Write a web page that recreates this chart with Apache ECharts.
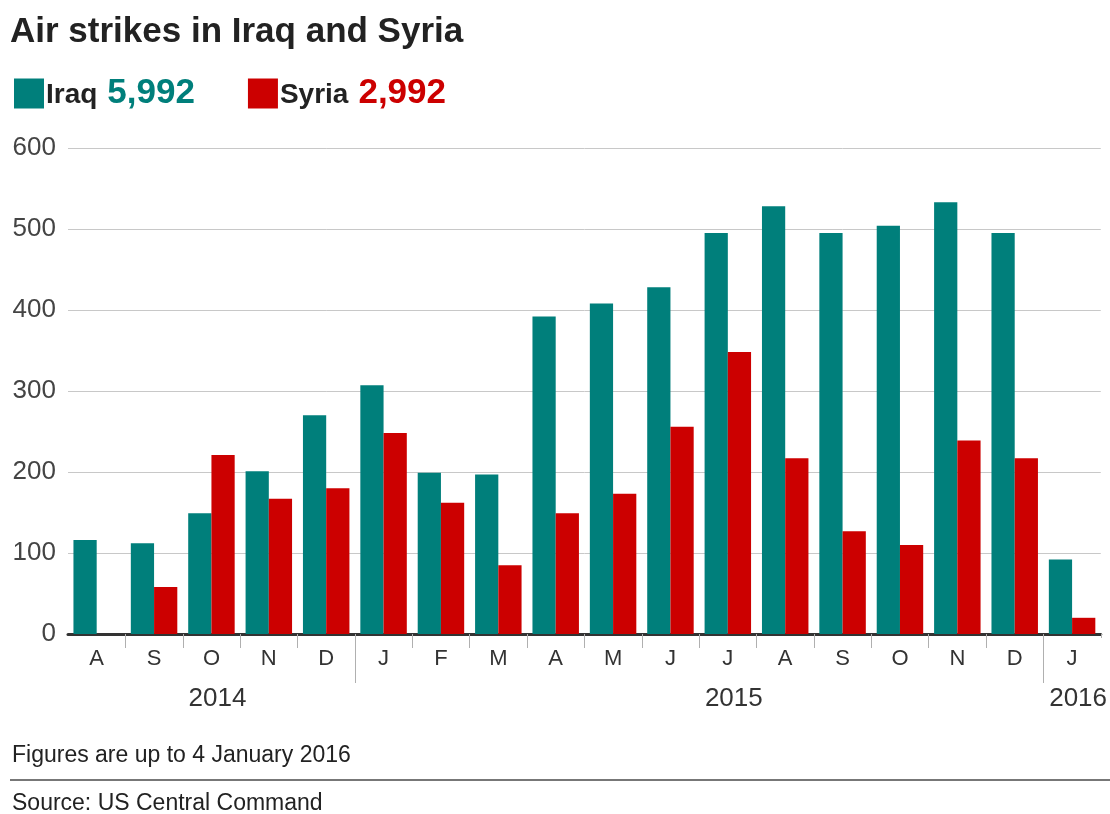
<!DOCTYPE html>
<html>
<head>
<meta charset="utf-8">
<script src="https://cdn.jsdelivr.net/npm/echarts@6/dist/echarts.min.js"></script>
<style>
html,body{margin:0;padding:0;background:#fff;}
#chart{width:1110px;height:814px;}
</style>
</head>
<body>
<div id="chart"></div>
<script>
const months = ['A','S','O','N','D','J','F','M','A','M','J','J','A','S','O','N','D','J'];
const yearLabels = {2:'2014', 11:'2015', 17:'2016'};
const yearBoundaries = [5, 17];
const iraq = [116,112,149,201,270,307,199,197,392,408,428,495,528,495,504,533,495,92];
const syria = [0,58,221,167,180,248,162,85,149,173,256,348,217,127,110,239,217,20];
const seriesNames = ['Iraq','Syria'];
const totals = ['5,992','2,992'];
const yTicks = [0,100,200,300,400,500,600];

const TEAL = '#007f7b', RED = '#cc0000';
const FONT = '"Liberation Sans", Arial, Helvetica, sans-serif';

const chart = echarts.init(document.getElementById('chart'), null, {renderer:'canvas'});
chart.setOption({
  animation:false,
  backgroundColor:'#fff',
  textStyle:{fontFamily:FONT},
  title:{
    text:'Air strikes in Iraq and Syria',
    left:10, top:15, padding:0,
    textStyle:{fontSize:35, fontWeight:'bold', color:'#222', fontFamily:FONT}
  },
  legend:{
    left:14, top:76, padding:0,
    icon:'rect', itemWidth:30, itemHeight:30, itemGap:53,
    data:seriesNames,
    formatter: function(name){
      const i = seriesNames.indexOf(name);
      return '{n|' + name + '}{' + (i===0?'a':'b') + '|' + totals[i] + '}';
    },
    textStyle:{
      padding:[0,0,0,-3],
      rich:{
        n:{fontSize:28, fontWeight:'bold', color:'#222', fontFamily:FONT, padding:[3,0,0,0]},
        a:{fontSize:35, fontWeight:'bold', color:TEAL, fontFamily:FONT, padding:[0,0,0,10]},
        b:{fontSize:35, fontWeight:'bold', color:RED, fontFamily:FONT, padding:[0,0,0,10]}
      }
    }
  },
  grid:{left:68, right:9, top:148, bottom:180, containLabel:false},
  xAxis:[
    {
      type:'category', data:months, position:'bottom',
      axisLine:{show:true, lineStyle:{color:'#333', width:3}},
      axisTick:{show:true, length:14, interval:function(i){return i>0;}, lineStyle:{color:'#b0b0b0', width:1}},
      axisLabel:{fontSize:22, color:'#333', margin:14, fontFamily:FONT, interval:0}
    },
    {
      type:'category', data:months, position:'bottom', offset:0,
      axisLine:{show:false},
      axisTick:{show:true, length:49, interval:function(i){return yearBoundaries.indexOf(i)>=0;}, lineStyle:{color:'#b0b0b0', width:1}},
      axisLabel:{
        fontSize:26, color:'#333', margin:52, fontFamily:FONT, padding:[0,0,0,12],
        interval:function(i){return yearLabels[i]!==undefined;},
        formatter:function(v,i){return yearLabels[i]||'';}
      }
    }
  ],
  yAxis:{
    type:'value', min:yTicks[0], max:yTicks[yTicks.length-1], interval:100,
    axisLine:{show:false}, axisTick:{show:false},
    axisLabel:{fontSize:26, color:'#444', margin:12, fontFamily:FONT},
    splitLine:{lineStyle:{color:'#c8c8c8', width:1}}
  },
  series:[
    {name:seriesNames[0], type:'bar', data:iraq, itemStyle:{color:TEAL}, barGap:'0%', barCategoryGap:'19%'},
    {name:seriesNames[1], type:'bar', data:syria, itemStyle:{color:RED}, barGap:'0%', barCategoryGap:'19%'}
  ],
  graphic:[
    {type:'rect', left:1099, top:638, shape:{width:8, height:47}, style:{fill:'#fff'}, z:100},
    {type:'text', left:12, top:744, style:{text:'Figures are up to 4 January 2016', fontSize:23, fill:'#222', fontFamily:FONT}},
    {type:'rect', left:10, top:779, shape:{width:1100, height:2}, style:{fill:'#777'}},
    {type:'text', left:12, top:792, style:{text:'Source: US Central Command', fontSize:23, fill:'#222', fontFamily:FONT}}
  ]
});
</script>
</body>
</html>
